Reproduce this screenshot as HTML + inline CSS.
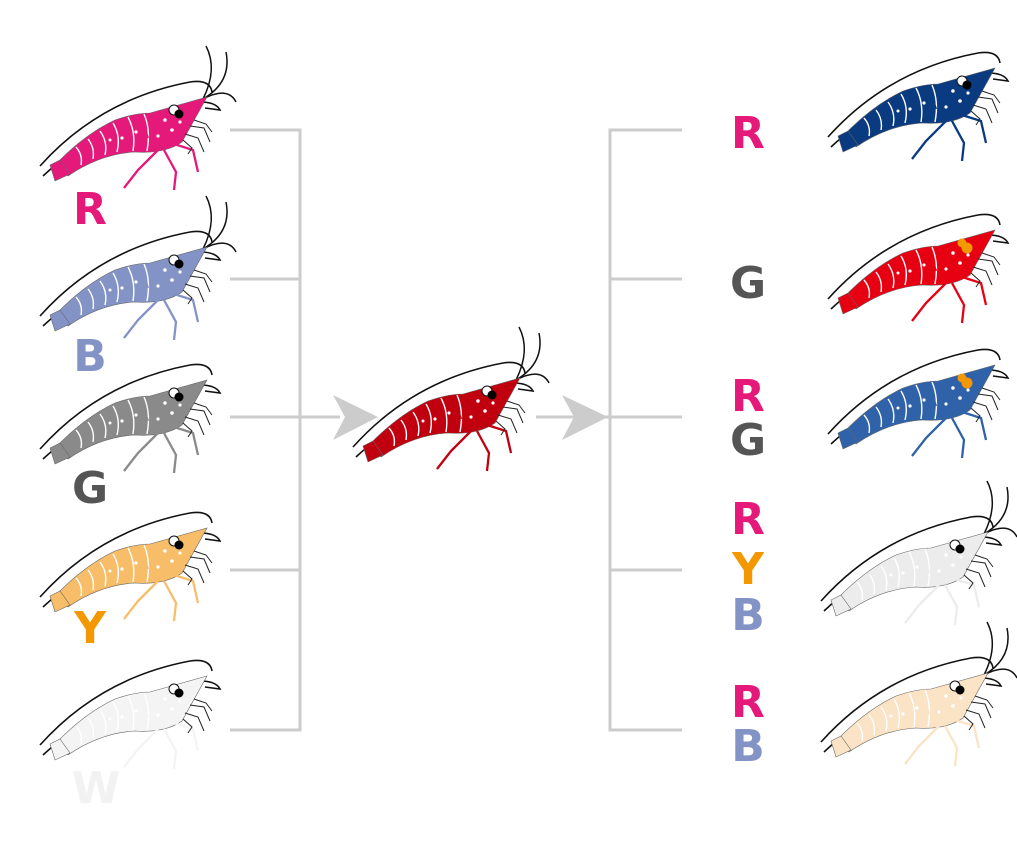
<!DOCTYPE html>
<html><head><meta charset="utf-8"><style>
html,body{margin:0;padding:0;background:#fff;width:1017px;height:857px;overflow:hidden}
svg{position:absolute;left:0;top:0}
text{font-family:"DejaVu Sans","Liberation Sans",sans-serif;font-weight:bold;font-size:44px;text-anchor:middle}
</style></head><body>
<svg width="1017" height="857" viewBox="0 0 1017 857">
<defs>
<symbol id="w" viewBox="0 0 200 145" width="200" height="145" overflow="visible">
  <g fill="none" stroke="#111" stroke-width="1.5">
    <path d="M163,55 Q178,25 166,2"/>
    <path d="M163,55 Q192,38 186,8"/>
    <path d="M163,55 Q188,42 196,58"/>
  </g>
</symbol>
<symbol id="s" viewBox="0 0 200 145" width="200" height="145" overflow="visible">
  <g fill="none" stroke="#111" stroke-width="1.6">
    <path d="M0,122 Q60,55 150,38 Q170,35 172,48"/>
    <path d="M3,132 Q60,78 163,58"/>
    <path d="M160,58 Q176,58 180,66 L165,64"/>
  </g>
  <path d="M16,120 Q45,90 75,76 Q95,69 110,69 L167,53 L142,98 Q125,110 95,108 Q60,110 28,132 Z" fill="currentColor" stroke="#666" stroke-width="0.6"/>
  <path d="M20,116 L10,121 L15,137 L30,130 Z" fill="currentColor" stroke="#666" stroke-width="0.6"/>
  <g stroke="#fff" stroke-width="1.4" fill="none">
    <path d="M36,103 Q43,111 41,121"/><path d="M48,95 Q55,104 53,115"/><path d="M60,87 Q68,98 65,111"/>
    <path d="M73,79 Q81,92 77,108"/><path d="M88,73 Q96,88 93,107"/><path d="M104,70 Q111,86 107,107"/>
  </g>
  <g fill="#fff"><circle cx="125" cy="76" r="1.8"/><circle cx="132" cy="86" r="1.8"/><circle cx="118" cy="92" r="1.6"/><circle cx="96" cy="88" r="1.6"/><circle cx="82" cy="94" r="1.6"/><circle cx="140" cy="78" r="1.6"/><circle cx="70" cy="96" r="1.5"/></g>
  <g fill="none" stroke="currentColor" stroke-width="2.3">
    <path d="M118,106 L98,126 L84,144"/>
    <path d="M124,106 L136,128 L134,146"/>
    <path d="M134,100 L153,106 L158,128"/>
    <path d="M108,94 L102,78 L96,74"/>
    <path d="M124,92 L128,76 L128,68"/>
  </g>
  <g fill="none" stroke="#222" stroke-width="1">
    <path d="M145,90 L158,94 L164,108"/><path d="M150,82 L164,84 L170,98"/><path d="M143,96 L152,104 L148,110"/><path d="M154,76 L166,80 L172,88"/>
  </g>
</symbol>
<symbol id="e" viewBox="0 0 200 145" width="200" height="145" overflow="visible">
  <circle cx="134" cy="66" r="5" fill="#fff" stroke="#111" stroke-width="1"/>
  <circle cx="139" cy="70" r="4.5" fill="#000"/>
</symbol>
<symbol id="o" viewBox="0 0 200 145" width="200" height="145" overflow="visible">
  <circle cx="134" cy="66" r="4.5" fill="#f39800"/>
  <circle cx="139" cy="71" r="5.5" fill="#f39800"/>
</symbol>
</defs>

<g stroke="#cccccc" stroke-width="3" fill="none">
  <path d="M230,130 H300 V730 H230"/>
  <path d="M230,279 H300 M230,417 H340 M230,570 H300"/>
  <path d="M682,130 H610 V730 H682"/>
  <path d="M682,279 H610 M536,417 H682 M682,570 H610"/>
</g>
<polygon points="333,395 378,417 333,440 345,417" fill="#cccccc"/>
<polygon points="562,395 608,417 562,440 574,417" fill="#cccccc"/>

<use href="#w" x="40" y="44"/><use href="#s" x="40" y="44" style="color:#e5197a"/><use href="#e" x="40" y="44"/>
<use href="#w" x="40" y="194"/><use href="#s" x="40" y="194" style="color:#8493c6"/><use href="#e" x="40" y="194"/>
<use href="#s" x="40" y="327" style="color:#8a8a8a"/><use href="#e" x="40" y="327"/>
<use href="#s" x="40" y="475" style="color:#f7bd68"/><use href="#e" x="40" y="475"/>
<use href="#s" x="40" y="623" style="color:#f4f4f4"/><use href="#e" x="40" y="623"/>
<use href="#w" x="353" y="325"/><use href="#s" x="353" y="325" style="color:#c0000e"/><use href="#e" x="353" y="325"/>
<use href="#s" x="828" y="15" style="color:#0a3a80"/><use href="#e" x="828" y="15"/>
<use href="#s" x="828" y="177" style="color:#e60012"/><use href="#o" x="828" y="177"/>
<use href="#s" x="828" y="312" style="color:#2f62a8"/><use href="#o" x="828" y="312"/>
<use href="#w" x="821" y="479"/><use href="#s" x="821" y="479" style="color:#ececec"/><use href="#e" x="821" y="479"/>
<use href="#w" x="821" y="620"/><use href="#s" x="821" y="620" style="color:#fbe3c6"/><use href="#e" x="821" y="620"/>

<text x="90" y="224" fill="#e5197a">R</text>
<text x="90" y="371" fill="#8493c6">B</text>
<text x="90" y="503" fill="#555">G</text>
<text x="90" y="643" fill="#f39800">Y</text>
<text x="96" y="803" fill="#f2f2f2">W</text>

<text x="748" y="148" fill="#e5197a">R</text>
<text x="748" y="298" fill="#555">G</text>
<text x="748" y="411" fill="#e5197a">R</text>
<text x="748" y="455" fill="#555">G</text>
<text x="748" y="534" fill="#e5197a">R</text>
<text x="748" y="584" fill="#f39800">Y</text>
<text x="748" y="630" fill="#8493c6">B</text>
<text x="748" y="717" fill="#e5197a">R</text>
<text x="748" y="761" fill="#8493c6">B</text>
</svg>
</body></html>
